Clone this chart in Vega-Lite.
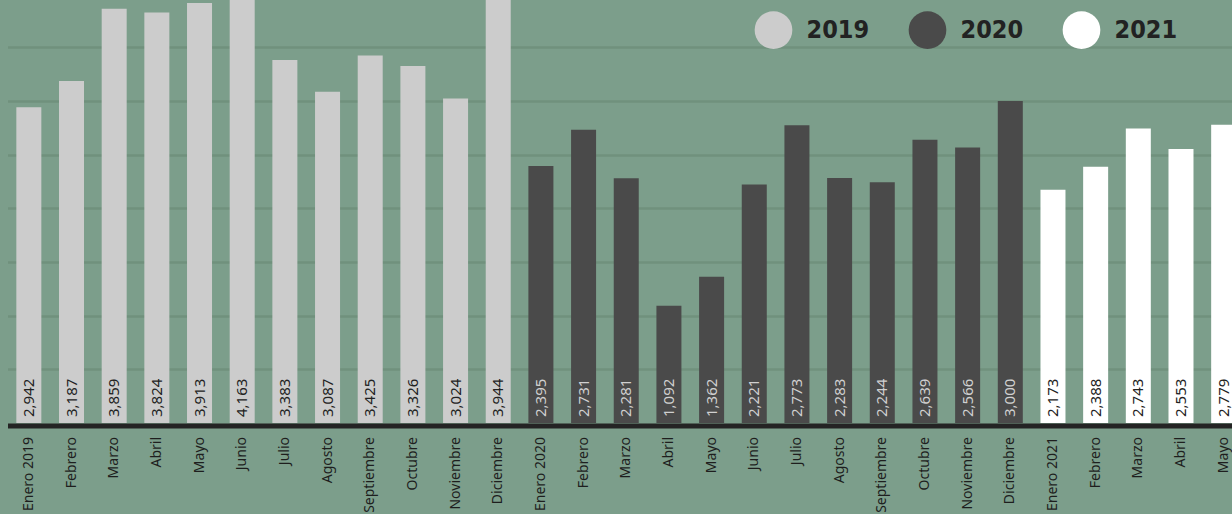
{
  "$schema": "https://vega.github.io/schema/vega-lite/v6.json",
  "autosize": "none",
  "padding": {"left": 7.5, "top": 0, "right": 0, "bottom": 91},
  "width": 1224.5,
  "height": 423,
  "background": "#7c9e8b",
  "config": {"view": {"stroke": null}, "font": "Noto Sans"},
  "data": {"values": [
    {"key": "Enero 2019", "year": "2019", "value": 2942},
    {"key": "Febrero 2019", "year": "2019", "value": 3187},
    {"key": "Marzo 2019", "year": "2019", "value": 3859},
    {"key": "Abril 2019", "year": "2019", "value": 3824},
    {"key": "Mayo 2019", "year": "2019", "value": 3913},
    {"key": "Junio 2019", "year": "2019", "value": 4163},
    {"key": "Julio 2019", "year": "2019", "value": 3383},
    {"key": "Agosto 2019", "year": "2019", "value": 3087},
    {"key": "Septiembre 2019", "year": "2019", "value": 3425},
    {"key": "Octubre 2019", "year": "2019", "value": 3326},
    {"key": "Noviembre 2019", "year": "2019", "value": 3024},
    {"key": "Diciembre 2019", "year": "2019", "value": 3944},
    {"key": "Enero 2020", "year": "2020", "value": 2395},
    {"key": "Febrero 2020", "year": "2020", "value": 2731},
    {"key": "Marzo 2020", "year": "2020", "value": 2281},
    {"key": "Abril 2020", "year": "2020", "value": 1092},
    {"key": "Mayo 2020", "year": "2020", "value": 1362},
    {"key": "Junio 2020", "year": "2020", "value": 2221},
    {"key": "Julio 2020", "year": "2020", "value": 2773},
    {"key": "Agosto 2020", "year": "2020", "value": 2283},
    {"key": "Septiembre 2020", "year": "2020", "value": 2244},
    {"key": "Octubre 2020", "year": "2020", "value": 2639},
    {"key": "Noviembre 2020", "year": "2020", "value": 2566},
    {"key": "Diciembre 2020", "year": "2020", "value": 3000},
    {"key": "Enero 2021", "year": "2021", "value": 2173},
    {"key": "Febrero 2021", "year": "2021", "value": 2388},
    {"key": "Marzo 2021", "year": "2021", "value": 2743},
    {"key": "Abril 2021", "year": "2021", "value": 2553},
    {"key": "Mayo 2021", "year": "2021", "value": 2779}
  ]},
  "encoding": {
    "x": {
      "field": "key", "type": "nominal", "sort": null,
      "scale": {"range": [0, 1237.5], "paddingInner": 0.414, "paddingOuter": 0.207},
      "axis": {
        "title": null, "orient": "bottom", "ticks": false,
        "domain": true, "domainColor": "#242424", "domainWidth": 5, "offset": 2.5,
        "labelAngle": -90, "labelPadding": 11, "labelFontSize": 14,
        "labelColor": "#1e1e1e", "labelFont": "Noto Sans", "zindex": 1, "labelBound": false,
        "labelExpr": "indexof(datum.label, 'Enero') == 0 ? datum.label : split(datum.label, ' ')[0]"
      }
    }
  },
  "layer": [
    {
      "mark": {"type": "bar", "clip": true},
      "encoding": {
        "y": {
          "field": "value", "type": "quantitative",
          "scale": {"domain": [0, 3941], "nice": false, "zero": true},
          "axis": {
            "title": null, "labels": false, "ticks": false, "domain": false,
            "grid": true, "gridColor": "#70917d", "gridWidth": 2.5,
            "values": [500, 1000, 1500, 2000, 2500, 3000, 3500]
          }
        },
        "color": {
          "field": "year", "type": "nominal",
          "scale": {"domain": ["2019", "2020", "2021"], "range": ["#cccccc", "#4a4a4a", "#ffffff"]},
          "legend": {
            "title": null, "orient": "none", "direction": "horizontal",
            "legendX": 747, "legendY": 11,
            "symbolType": "circle", "symbolSize": 1420, "symbolStrokeWidth": 0, "symbolOpacity": 1,
            "labelFont": "DejaVu Sans Condensed, Roboto Condensed, Roboto", "labelFontSize": 25, "labelFontWeight": "bold",
            "labelColor": "#222222", "labelOffset": 14, "columnPadding": 39
          }
        }
      }
    },
    {
      "mark": {"type": "text", "angle": 270, "align": "left", "baseline": "middle", "dx": 6, "fontSize": 15, "font": "Noto Sans"},
      "encoding": {
        "y": {"datum": 0, "type": "quantitative"},
        "text": {"field": "value", "type": "quantitative", "format": ","},
        "fill": {"condition": {"test": "datum.year == '2020'", "value": "#d0d0d0"}, "value": "#222222"}
      }
    }
  ]
}
